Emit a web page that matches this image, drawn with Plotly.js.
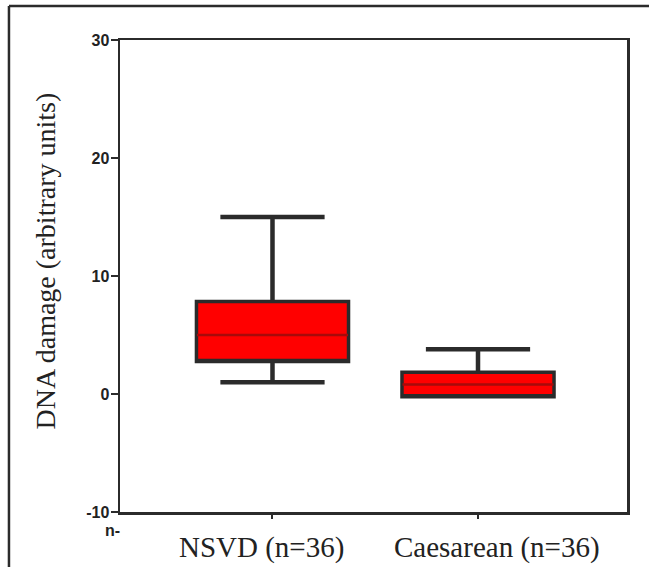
<!DOCTYPE html>
<html>
<head>
<meta charset="utf-8">
<script src="https://cdn.plot.ly/plotly-3.0.1.min.js"></script>
<style>html,body{margin:0;padding:0;background:#fff;}#chart{width:649px;height:567px;}</style>
</head>
<body>
<div id="chart"></div>
<script>
// ---- data ----
var categories = ['NSVD (n=36)', 'Caesarean (n=36)'];
var lowerWhisker = [1.0, -0.2];
var q1Values = [2.8, -0.2];
var medianValues = [5.0, 0.8];
var q3Values = [7.8, 1.8];
var upperWhisker = [15.0, 3.8];
var yTickValues = [-10, 0, 10, 20, 30];
var yTickLabels = ['-10', '0', '10', '20', '30'];
var yTitle = 'DNA damage (arbitrary units)';
var strayLabel = 'n-';

// ---- styling ----
var ink = '#2b2b2b';
var labelShiftPx = [-11, 19];   // horizontal offset of category labels in the original
var serif = 'Liberation Serif, Times New Roman, serif';
var idx = categories.map(function (c, i) { return i; });

var traces = [
  { // thick whiskers underneath
    type: 'box', x: idx, q1: q1Values, median: medianValues, q3: q3Values,
    lowerfence: lowerWhisker, upperfence: upperWhisker,
    fillcolor: '#ff0000', line: { color: ink, width: 4.5 }, whiskerwidth: 0.69,
    hoverinfo: 'skip', showlegend: false
  },
  { // box body on top
    type: 'box', x: idx, q1: q1Values, median: q1Values, q3: q3Values,
    lowerfence: q1Values, upperfence: q3Values,
    fillcolor: '#ff0000', line: { color: ink, width: 2.5 }, whiskerwidth: 0,
    hoverinfo: 'skip', showlegend: false
  },
  { // median line in dark red
    type: 'box', x: idx, q1: medianValues, median: medianValues, q3: medianValues,
    lowerfence: medianValues, upperfence: medianValues,
    fillcolor: 'rgba(0,0,0,0)', line: { color: '#a80a0a', width: 2.4 }, whiskerwidth: 0,
    hoverinfo: 'skip', showlegend: false
  }
];

var annotations = [
  { text: yTitle, xref: 'paper', yref: 'paper', x: -0.148, y: 0.533,
    textangle: -90, showarrow: false, xanchor: 'center', yanchor: 'middle',
    font: { family: serif, size: 28, color: '#222' } },
  { text: '<b>' + strayLabel + '</b>', xref: 'paper', yref: 'paper', x: -0.014, y: -0.04,
    showarrow: false, xanchor: 'center', yanchor: 'middle',
    font: { family: 'Liberation Sans, Arial, sans-serif', size: 16, color: '#222' } }
];
categories.forEach(function (c, i) {
  annotations.push({
    text: c, xref: 'x', yref: 'paper', x: i, y: -0.076, xshift: labelShiftPx[i],
    showarrow: false, xanchor: 'center', yanchor: 'middle',
    font: { family: serif, size: 29, color: '#222' }
  });
});

var layout = {
  width: 649, height: 567,
  margin: { l: 120, r: 22, t: 40, b: 55 },
  paper_bgcolor: '#ffffff', plot_bgcolor: '#ffffff',
  showlegend: false,
  boxmode: 'overlay', boxgap: 0.265, boxgroupgap: 0,
  font: { family: 'Liberation Sans, Arial, sans-serif', color: '#222' },
  xaxis: {
    range: [-0.742, 1.725], showgrid: false, zeroline: false,
    showline: true, linecolor: ink, linewidth: 2.5, mirror: true,
    tickmode: 'array', tickvals: idx, ticktext: categories, showticklabels: false,
    ticks: 'outside', ticklen: 4, tickwidth: 2, tickcolor: ink
  },
  yaxis: {
    range: [-10, 30], showgrid: false, zeroline: false,
    showline: true, linecolor: ink, linewidth: 2.5, mirror: true,
    tickmode: 'array', tickvals: yTickValues, ticktext: yTickLabels,
    ticks: 'outside', ticklen: 7, tickwidth: 2, tickcolor: ink,
    tickfont: { family: 'Liberation Sans, Arial, sans-serif', size: 16, weight: 'bold', color: '#222' },
    ticklabelstandoff: -2
  },
  annotations: annotations,
  shapes: [
    { type: 'line', xref: 'paper', yref: 'paper', x0: -0.219, x1: 1.1, y0: 1.072, y1: 1.072,
      line: { color: ink, width: 2.5 } },
    { type: 'line', xref: 'paper', yref: 'paper', x0: -0.219, x1: -0.219, y0: 1.072, y1: -0.2,
      line: { color: ink, width: 2.5 } }
  ]
};

Plotly.newPlot('chart', traces, layout, { staticPlot: true, displayModeBar: false });
</script>
</body>
</html>
